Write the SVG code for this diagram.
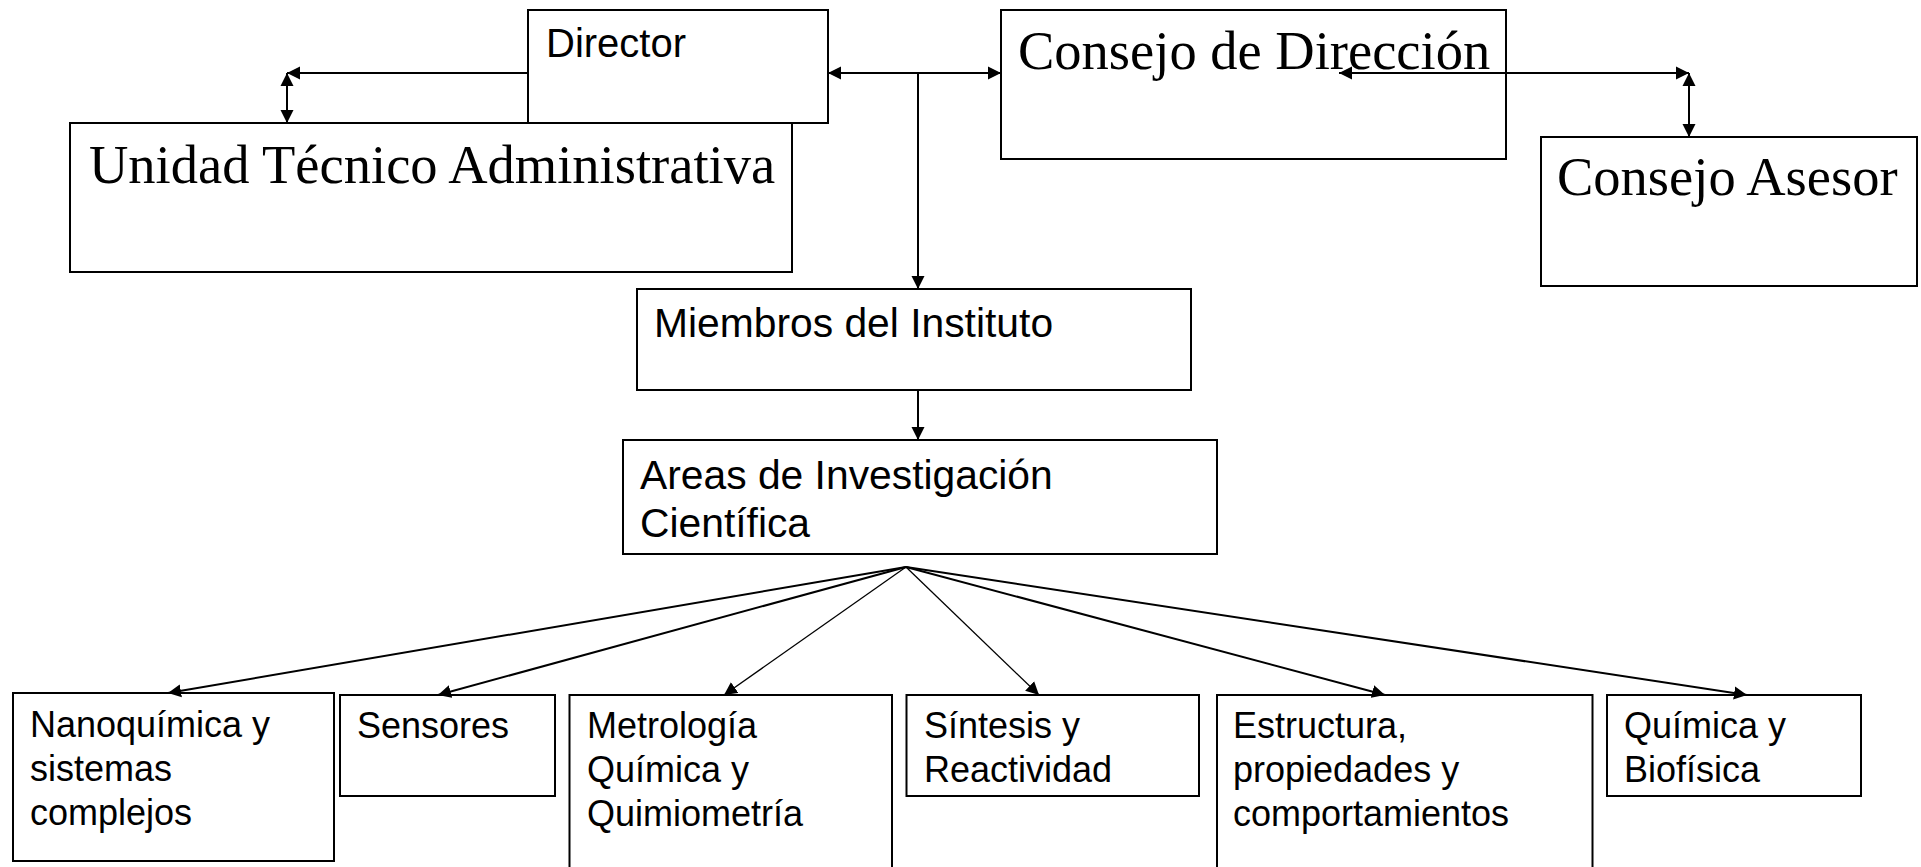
<svg xmlns="http://www.w3.org/2000/svg" width="1921" height="867" viewBox="0 0 1921 867">
<style>
.box{fill:#fff;stroke:#000;stroke-width:2}
.sans{font-family:"Liberation Sans",Arial,sans-serif;fill:#000}
.serif{font-family:"Liberation Serif","Times New Roman",serif;fill:#000;font-size:54.5px}
.c{fill:none;stroke:#000;stroke-width:2}
.t{fill:none;stroke:#000;stroke-width:1.3}
.s40{font-size:40.8px}
.s36{font-size:36px}
</style>
<defs>
<marker id="ah" markerUnits="userSpaceOnUse" markerWidth="14" markerHeight="14" refX="13" refY="6.5" orient="auto-start-reverse" viewBox="0 0 14 13">
<path d="M0,0 L13,6.5 L0,13 Z" fill="#000"/>
</marker>
</defs>
<rect width="1921" height="867" fill="#fff"/>
<g id="uta"><rect class="box" x="70" y="123" width="722" height="149"/><text class="serif" x="89" y="183">Unidad Técnico Administrativa</text></g>
<g id="director"><rect class="box" x="528" y="10" width="300" height="113"/><text class="sans" font-size="40" x="546" y="57">Director</text></g>
<g id="consejo-direccion"><rect class="box" x="1001" y="10" width="505" height="149"/><text class="serif" x="1018" y="69">Consejo de Dirección</text></g>
<g id="consejo-asesor"><rect class="box" x="1541" y="137" width="376" height="149"/><text class="serif" x="1557" y="195">Consejo Asesor</text></g>
<g id="miembros"><rect class="box" x="637" y="289" width="554" height="101"/><text class="sans s40" x="654" y="337">Miembros del Instituto</text></g>
<g id="areas"><rect class="box" x="623" y="440" width="594" height="114"/><text class="sans s40" x="640" y="489">Areas de Investigación</text><text class="sans s40" x="640" y="537">Científica</text></g>
<g id="nanoquimica"><rect class="box" x="13" y="693" width="321" height="168"/><text class="sans s36" x="30" y="737">Nanoquímica y</text><text class="sans s36" x="30" y="781">sistemas</text><text class="sans s36" x="30" y="825">complejos</text></g>
<g id="sensores"><rect class="box" x="340" y="695" width="215" height="101"/><text class="sans s36" x="357" y="738">Sensores</text></g>
<g id="metrologia"><rect class="box" x="569.5" y="695" width="322.5" height="180"/><text class="sans s36" x="587" y="738">Metrología</text><text class="sans s36" x="587" y="782">Química y</text><text class="sans s36" x="587" y="826">Quimiometría</text></g>
<g id="sintesis"><rect class="box" x="906.5" y="695" width="292.5" height="101"/><text class="sans s36" x="924" y="738">Síntesis y</text><text class="sans s36" x="924" y="782">Reactividad</text></g>
<g id="estructura"><rect class="box" x="1217" y="695" width="375.5" height="180"/><text class="sans s36" x="1233" y="738">Estructura,</text><text class="sans s36" x="1233" y="782">propiedades y</text><text class="sans s36" x="1233" y="826">comportamientos</text></g>
<g id="quimica-biofisica"><rect class="box" x="1607" y="695" width="254" height="101"/><text class="sans s36" x="1624" y="738">Química y</text><text class="sans s36" x="1624" y="782">Biofísica</text></g>
<g id="connectors">
<path class="c" d="M528,73 H287" marker-end="url(#ah)"/>
<path class="c" d="M287,73 V123" marker-start="url(#ah)" marker-end="url(#ah)"/>
<path class="c" d="M828,73 H1001" marker-start="url(#ah)" marker-end="url(#ah)"/>
<path class="c" d="M918,73 V289" marker-end="url(#ah)"/>
<path class="c" d="M1339,73 H1689" marker-start="url(#ah)" marker-end="url(#ah)"/>
<path class="c" d="M1689,73 V137" marker-start="url(#ah)" marker-end="url(#ah)"/>
<path class="c" d="M918,390 V440" marker-end="url(#ah)"/>
<path class="c" d="M906,567 L168,693" marker-end="url(#ah)"/>
<path class="c" d="M906,567 L438,695" marker-end="url(#ah)"/>
<path class="t" d="M906,567 L724,695" marker-end="url(#ah)"/>
<path class="t" d="M906,567 L1039,695" marker-end="url(#ah)"/>
<path class="c" d="M906,567 L1385,695" marker-end="url(#ah)"/>
<path class="c" d="M906,567 L1747,695" marker-end="url(#ah)"/>
</g>
</svg>
